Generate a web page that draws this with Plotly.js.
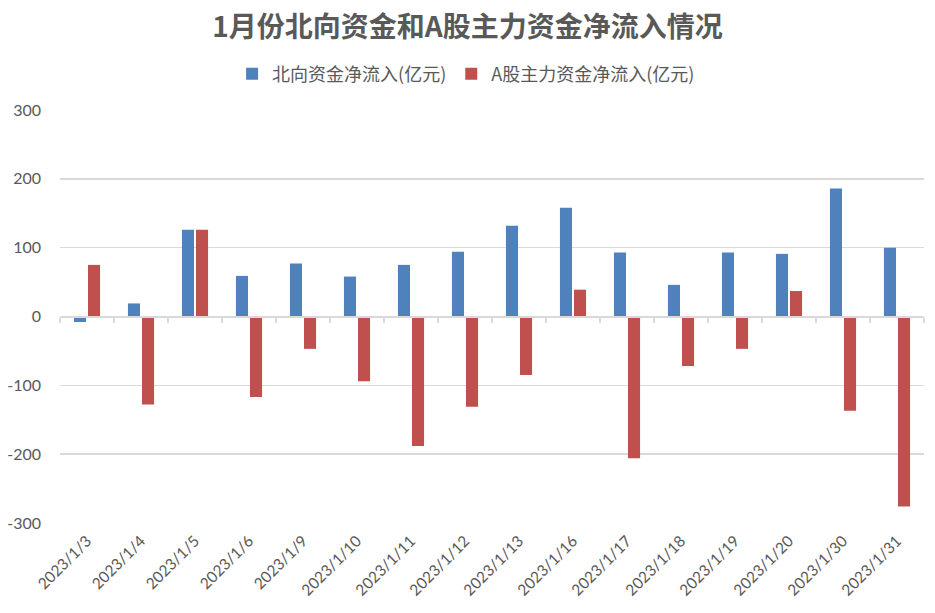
<!DOCTYPE html>
<html>
<head>
<meta charset="utf-8">
<script src="https://cdn.plot.ly/plotly-3.0.1.min.js"></script>
<style>html,body{margin:0;padding:0;background:#fff;}#chart{width:935px;height:613px;}</style>
</head>
<body>
<div id="chart"></div>
<script>
const dates = ["2023/1/3","2023/1/4","2023/1/5","2023/1/6","2023/1/9","2023/1/10","2023/1/11","2023/1/12","2023/1/13","2023/1/16","2023/1/17","2023/1/18","2023/1/19","2023/1/20","2023/1/30","2023/1/31"];
const northbound = [-8, 19, 126, 59, 77, 58, 75, 94, 132, 158, 93, 46, 93, 91, 186, 100];
const mainForce = [75, -128, 126, -117, -47, -94, -188, -131, -85, 39, -206, -72, -47, 37, -137, -276];
const seriesNames = ["北向资金净流入(亿元)", "A股主力资金净流入(亿元)"];
const yTicks = [-300, -200, -100, 0, 100, 200, 300];
const yTickText = ["-300", "-200", "-100", "0", "100", "200", "300"];

const cjk = '"Noto Sans CJK SC", sans-serif';
const latin = 'Lato, "Noto Sans", sans-serif';
const grey = '#595959';

const traces = [
  {type:'bar', name:seriesNames[0], x:dates, y:northbound, marker:{color:'#4f81bd'}, xaxis:'x', yaxis:'y'},
  {type:'bar', name:seriesNames[1], x:dates, y:mainForce, marker:{color:'#c0504d'}, xaxis:'x', yaxis:'y'},
  {type:'scatter', mode:'markers', x:dates, y:dates.map(()=>null), xaxis:'x2', yaxis:'y', showlegend:false, hoverinfo:'skip'}
];

const layout = {
  width:935, height:613,
  margin:{l:60, r:11, t:110, b:90},
  paper_bgcolor:'#fff', plot_bgcolor:'#fff',
  title:{text:'1月份北向资金和A股主力资金净流入情况', x:0.5, xref:'container', xanchor:'center', y:1-27/613, yref:'container', yanchor:'middle',
         font:{family:cjk, size:28, color:grey, weight:'bold'}},
  showlegend:true,
  legend:{orientation:'h', x:0.47, xanchor:'center', y:1+(110-74)/413, yanchor:'middle', font:{family:cjk, size:18, color:grey}, itemwidth:30},
  bargap:0.48, bargroupgap:0.14,
  xaxis:{type:'category', categoryorder:'array', categoryarray:dates, range:[-0.5, dates.length-0.5],
         anchor:'free', position:0.5, showline:true, linecolor:'#d9d9d9', linewidth:2,
         ticks:'outside', tickson:'boundaries', ticklen:5, tickwidth:2, tickcolor:'#d9d9d9',
         showticklabels:false, showgrid:false, zeroline:false, fixedrange:true},
  xaxis2:{type:'category', categoryorder:'array', categoryarray:dates, range:[-0.5, dates.length-0.5],
          overlaying:'x', anchor:'y', side:'bottom', showline:false, showgrid:false, zeroline:false, ticks:'',
          tickangle:-45, tickfont:{family:latin, size:15.5, color:grey}, ticklabelstandoff:5},
  yaxis:{range:[-300,300], tickvals:yTicks, ticktext:yTickText, showgrid:true, gridcolor:'#d9d9d9', gridwidth:1.5, zeroline:false,
         showline:false, ticks:'', tickfont:{family:latin, size:16, color:grey}, ticklabelstandoff:18, fixedrange:true}
};

Plotly.newPlot('chart', traces, layout, {displayModeBar:false, staticPlot:true});
</script>
</body>
</html>
